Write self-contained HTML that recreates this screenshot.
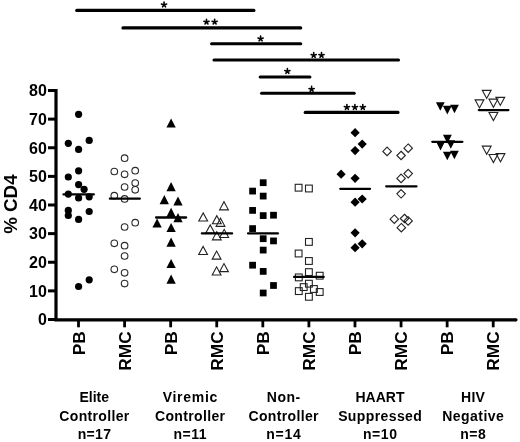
<!DOCTYPE html><html><head><meta charset="utf-8"><style>html,body{margin:0;padding:0;background:#fff;}svg{display:block;will-change:transform;filter:blur(0.45px);}</style></head><body>
<svg width="520" height="442" viewBox="0 0 520 442" style="font-family:'Liberation Sans', sans-serif;font-weight:bold">
<rect width="520" height="442" fill="#fff"/>
<line x1="76.7" y1="10.4" x2="253.9" y2="10.4" stroke="#000" stroke-width="3.1" stroke-linecap="round"/>
<path d="M164.05 4.90L164.05 2.00M164.05 4.90L166.62 4.07M164.05 4.90L161.48 4.07M164.05 4.90L165.53 6.79M164.05 4.90L162.57 6.79" stroke="#000" stroke-width="1.6" stroke-linecap="round" fill="none"/>
<line x1="122.9" y1="27.9" x2="300.7" y2="27.9" stroke="#000" stroke-width="3.1" stroke-linecap="round"/>
<path d="M206.50 22.10L206.50 19.20M206.50 22.10L209.07 21.27M206.50 22.10L203.93 21.27M206.50 22.10L207.98 23.99M206.50 22.10L205.02 23.99" stroke="#000" stroke-width="1.6" stroke-linecap="round" fill="none"/>
<path d="M214.65 22.10L214.65 19.20M214.65 22.10L217.22 21.27M214.65 22.10L212.08 21.27M214.65 22.10L216.13 23.99M214.65 22.10L213.17 23.99" stroke="#000" stroke-width="1.6" stroke-linecap="round" fill="none"/>
<line x1="211.6" y1="43.7" x2="300.7" y2="43.7" stroke="#000" stroke-width="3.1" stroke-linecap="round"/>
<path d="M260.60 38.90L260.60 36.00M260.60 38.90L263.17 38.07M260.60 38.90L258.03 38.07M260.60 38.90L262.08 40.79M260.60 38.90L259.12 40.79" stroke="#000" stroke-width="1.6" stroke-linecap="round" fill="none"/>
<line x1="214.0" y1="60.0" x2="398.5" y2="60.0" stroke="#000" stroke-width="3.1" stroke-linecap="round"/>
<path d="M313.70 55.40L313.70 52.50M313.70 55.40L316.27 54.57M313.70 55.40L311.13 54.57M313.70 55.40L315.18 57.29M313.70 55.40L312.22 57.29" stroke="#000" stroke-width="1.6" stroke-linecap="round" fill="none"/>
<path d="M321.50 55.40L321.50 52.50M321.50 55.40L324.07 54.57M321.50 55.40L318.93 54.57M321.50 55.40L322.98 57.29M321.50 55.40L320.02 57.29" stroke="#000" stroke-width="1.6" stroke-linecap="round" fill="none"/>
<line x1="260.2" y1="77.0" x2="309.9" y2="77.0" stroke="#000" stroke-width="3.1" stroke-linecap="round"/>
<path d="M287.40 71.40L287.40 68.50M287.40 71.40L289.97 70.57M287.40 71.40L284.83 70.57M287.40 71.40L288.88 73.29M287.40 71.40L285.92 73.29" stroke="#000" stroke-width="1.6" stroke-linecap="round" fill="none"/>
<line x1="261.6" y1="93.2" x2="354.2" y2="93.2" stroke="#000" stroke-width="3.1" stroke-linecap="round"/>
<path d="M311.60 89.30L311.60 86.40M311.60 89.30L314.17 88.47M311.60 89.30L309.03 88.47M311.60 89.30L313.08 91.19M311.60 89.30L310.12 91.19" stroke="#000" stroke-width="1.6" stroke-linecap="round" fill="none"/>
<line x1="305.2" y1="112.4" x2="398.0" y2="112.4" stroke="#000" stroke-width="3.1" stroke-linecap="round"/>
<path d="M346.90 107.40L346.90 104.50M346.90 107.40L349.47 106.57M346.90 107.40L344.33 106.57M346.90 107.40L348.38 109.29M346.90 107.40L345.42 109.29" stroke="#000" stroke-width="1.6" stroke-linecap="round" fill="none"/>
<path d="M354.90 107.40L354.90 104.50M354.90 107.40L357.47 106.57M354.90 107.40L352.33 106.57M354.90 107.40L356.38 109.29M354.90 107.40L353.42 109.29" stroke="#000" stroke-width="1.6" stroke-linecap="round" fill="none"/>
<path d="M362.80 107.40L362.80 104.50M362.80 107.40L365.37 106.57M362.80 107.40L360.23 106.57M362.80 107.40L364.28 109.29M362.80 107.40L361.32 109.29" stroke="#000" stroke-width="1.6" stroke-linecap="round" fill="none"/>
<path d="M48 90.5 H56 V319.8 H516" fill="none" stroke="#000" stroke-width="3.2" stroke-linejoin="miter" stroke-linecap="butt"/><circle cx="516" cy="319.8" r="1.6" fill="#000"/>
<line x1="48" y1="319.50" x2="56" y2="319.50" stroke="#000" stroke-width="3"/>
<text x="46.9" y="325.30" font-size="16" text-anchor="end">0</text>
<line x1="48" y1="290.88" x2="56" y2="290.88" stroke="#000" stroke-width="3"/>
<text x="46.9" y="296.68" font-size="16" text-anchor="end">10</text>
<line x1="48" y1="262.25" x2="56" y2="262.25" stroke="#000" stroke-width="3"/>
<text x="46.9" y="268.05" font-size="16" text-anchor="end">20</text>
<line x1="48" y1="233.62" x2="56" y2="233.62" stroke="#000" stroke-width="3"/>
<text x="46.9" y="239.43" font-size="16" text-anchor="end">30</text>
<line x1="48" y1="205.00" x2="56" y2="205.00" stroke="#000" stroke-width="3"/>
<text x="46.9" y="210.80" font-size="16" text-anchor="end">40</text>
<line x1="48" y1="176.38" x2="56" y2="176.38" stroke="#000" stroke-width="3"/>
<text x="46.9" y="182.18" font-size="16" text-anchor="end">50</text>
<line x1="48" y1="147.75" x2="56" y2="147.75" stroke="#000" stroke-width="3"/>
<text x="46.9" y="153.55" font-size="16" text-anchor="end">60</text>
<line x1="48" y1="119.12" x2="56" y2="119.12" stroke="#000" stroke-width="3"/>
<text x="46.9" y="124.92" font-size="16" text-anchor="end">70</text>
<line x1="48" y1="90.50" x2="56" y2="90.50" stroke="#000" stroke-width="3"/>
<text x="46.9" y="96.30" font-size="16" text-anchor="end">80</text>
<line x1="78.50" y1="319.8" x2="78.50" y2="327.3" stroke="#000" stroke-width="2.8"/>
<text transform="translate(84.50,331.3) rotate(-90) scale(1.08,1)" font-size="16" text-anchor="end">PB</text>
<line x1="124.58" y1="319.8" x2="124.58" y2="327.3" stroke="#000" stroke-width="2.8"/>
<text transform="translate(130.58,331.3) rotate(-90) scale(1.08,1)" font-size="16" text-anchor="end">RMC</text>
<line x1="170.66" y1="319.8" x2="170.66" y2="327.3" stroke="#000" stroke-width="2.8"/>
<text transform="translate(176.66,331.3) rotate(-90) scale(1.08,1)" font-size="16" text-anchor="end">PB</text>
<line x1="216.74" y1="319.8" x2="216.74" y2="327.3" stroke="#000" stroke-width="2.8"/>
<text transform="translate(222.74,331.3) rotate(-90) scale(1.08,1)" font-size="16" text-anchor="end">RMC</text>
<line x1="262.82" y1="319.8" x2="262.82" y2="327.3" stroke="#000" stroke-width="2.8"/>
<text transform="translate(268.82,331.3) rotate(-90) scale(1.08,1)" font-size="16" text-anchor="end">PB</text>
<line x1="308.90" y1="319.8" x2="308.90" y2="327.3" stroke="#000" stroke-width="2.8"/>
<text transform="translate(314.90,331.3) rotate(-90) scale(1.08,1)" font-size="16" text-anchor="end">RMC</text>
<line x1="354.98" y1="319.8" x2="354.98" y2="327.3" stroke="#000" stroke-width="2.8"/>
<text transform="translate(360.98,331.3) rotate(-90) scale(1.08,1)" font-size="16" text-anchor="end">PB</text>
<line x1="401.06" y1="319.8" x2="401.06" y2="327.3" stroke="#000" stroke-width="2.8"/>
<text transform="translate(407.06,331.3) rotate(-90) scale(1.08,1)" font-size="16" text-anchor="end">RMC</text>
<line x1="447.14" y1="319.8" x2="447.14" y2="327.3" stroke="#000" stroke-width="2.8"/>
<text transform="translate(453.14,331.3) rotate(-90) scale(1.08,1)" font-size="16" text-anchor="end">PB</text>
<line x1="493.22" y1="319.8" x2="493.22" y2="327.3" stroke="#000" stroke-width="2.8"/>
<text transform="translate(499.22,331.3) rotate(-90) scale(1.08,1)" font-size="16" text-anchor="end">RMC</text>
<text transform="translate(16.6,204.1) rotate(-90) scale(1.04,1)" font-size="18" text-anchor="middle">% CD4</text>
<text x="94.30" y="402.2" font-size="14" letter-spacing="0" text-anchor="middle">Elite</text>
<text x="94.47" y="420.8" font-size="14" letter-spacing="0.35" text-anchor="middle">Controller</text>
<text x="94.47" y="439.4" font-size="14" letter-spacing="0.33" text-anchor="middle">n=17</text>
<text x="190.35" y="402.2" font-size="14" letter-spacing="0.7" text-anchor="middle">Viremic</text>
<text x="190.18" y="420.8" font-size="14" letter-spacing="0.35" text-anchor="middle">Controller</text>
<text x="190.28" y="439.4" font-size="14" letter-spacing="0.55" text-anchor="middle">n=11</text>
<text x="283.77" y="402.2" font-size="14" letter-spacing="0.55" text-anchor="middle">Non-</text>
<text x="283.68" y="420.8" font-size="14" letter-spacing="0.35" text-anchor="middle">Controller</text>
<text x="283.88" y="439.4" font-size="14" letter-spacing="0.75" text-anchor="middle">n=14</text>
<text x="380.00" y="402.2" font-size="14" letter-spacing="0" text-anchor="middle">HAART</text>
<text x="380.20" y="420.8" font-size="14" letter-spacing="0.4" text-anchor="middle">Suppressed</text>
<text x="380.27" y="439.4" font-size="14" letter-spacing="0.55" text-anchor="middle">n=10</text>
<text x="473.10" y="402.2" font-size="14" letter-spacing="0.2" text-anchor="middle">HIV</text>
<text x="473.23" y="420.8" font-size="14" letter-spacing="0.45" text-anchor="middle">Negative</text>
<text x="473.25" y="439.4" font-size="14" letter-spacing="0.5" text-anchor="middle">n=8</text>
<circle cx="78.6" cy="114.3" r="3.6" fill="#000"/>
<circle cx="68.3" cy="143.3" r="3.6" fill="#000"/>
<circle cx="78.6" cy="149.4" r="3.6" fill="#000"/>
<circle cx="89.2" cy="140.4" r="3.6" fill="#000"/>
<circle cx="78.6" cy="170.8" r="3.6" fill="#000"/>
<circle cx="68.3" cy="177" r="3.6" fill="#000"/>
<circle cx="78.6" cy="184.6" r="3.6" fill="#000"/>
<circle cx="84.1" cy="189.3" r="3.6" fill="#000"/>
<circle cx="68.3" cy="194.1" r="3.6" fill="#000"/>
<circle cx="78.6" cy="198" r="3.6" fill="#000"/>
<circle cx="89.2" cy="196.8" r="3.6" fill="#000"/>
<circle cx="68.3" cy="210.4" r="3.6" fill="#000"/>
<circle cx="68.3" cy="215.5" r="3.6" fill="#000"/>
<circle cx="89.2" cy="211.5" r="3.6" fill="#000"/>
<circle cx="78.6" cy="219.4" r="3.6" fill="#000"/>
<circle cx="78.6" cy="286.5" r="3.6" fill="#000"/>
<circle cx="89.2" cy="279.8" r="3.6" fill="#000"/>
<circle cx="124.6" cy="158.2" r="3.30" fill="none" stroke="#2a2a2a" stroke-width="1.1"/>
<circle cx="114.3" cy="171.5" r="3.30" fill="none" stroke="#2a2a2a" stroke-width="1.1"/>
<circle cx="124.6" cy="174.3" r="3.30" fill="none" stroke="#2a2a2a" stroke-width="1.1"/>
<circle cx="135.2" cy="170.7" r="3.30" fill="none" stroke="#2a2a2a" stroke-width="1.1"/>
<circle cx="124.6" cy="187" r="3.30" fill="none" stroke="#2a2a2a" stroke-width="1.1"/>
<circle cx="135.2" cy="183" r="3.30" fill="none" stroke="#2a2a2a" stroke-width="1.1"/>
<circle cx="135.2" cy="189.8" r="3.30" fill="none" stroke="#2a2a2a" stroke-width="1.1"/>
<circle cx="114.3" cy="195.7" r="3.30" fill="none" stroke="#2a2a2a" stroke-width="1.1"/>
<circle cx="124.6" cy="198.9" r="3.30" fill="none" stroke="#2a2a2a" stroke-width="1.1"/>
<circle cx="135.2" cy="222.7" r="3.30" fill="none" stroke="#2a2a2a" stroke-width="1.1"/>
<circle cx="124.6" cy="227" r="3.30" fill="none" stroke="#2a2a2a" stroke-width="1.1"/>
<circle cx="114.3" cy="243.3" r="3.30" fill="none" stroke="#2a2a2a" stroke-width="1.1"/>
<circle cx="124.6" cy="245.7" r="3.30" fill="none" stroke="#2a2a2a" stroke-width="1.1"/>
<circle cx="124.6" cy="256" r="3.30" fill="none" stroke="#2a2a2a" stroke-width="1.1"/>
<circle cx="114.3" cy="269.3" r="3.30" fill="none" stroke="#2a2a2a" stroke-width="1.1"/>
<circle cx="124.6" cy="272.8" r="3.30" fill="none" stroke="#2a2a2a" stroke-width="1.1"/>
<circle cx="124.6" cy="283.6" r="3.30" fill="none" stroke="#2a2a2a" stroke-width="1.1"/>
<polygon points="166.45,127.60 175.75,127.60 171.10,118.40" fill="#000"/>
<polygon points="166.45,191.30 175.75,191.30 171.10,182.10" fill="#000"/>
<polygon points="159.65,204.30 168.95,204.30 164.30,195.10" fill="#000"/>
<polygon points="173.35,205.60 182.65,205.60 178.00,196.40" fill="#000"/>
<polygon points="166.45,217.00 175.75,217.00 171.10,207.80" fill="#000"/>
<polygon points="173.35,222.30 182.65,222.30 178.00,213.10" fill="#000"/>
<polygon points="152.45,227.60 161.75,227.60 157.10,218.40" fill="#000"/>
<polygon points="166.45,232.10 175.75,232.10 171.10,222.90" fill="#000"/>
<polygon points="166.45,246.80 175.75,246.80 171.10,237.60" fill="#000"/>
<polygon points="166.45,268.10 175.75,268.10 171.10,258.90" fill="#000"/>
<polygon points="166.45,283.70 175.75,283.70 171.10,274.50" fill="#000"/>
<polygon points="219.60,209.85 228.40,209.85 224.00,201.75" fill="none" stroke="#222" stroke-width="1.1" stroke-linejoin="miter"/>
<polygon points="198.80,221.05 207.60,221.05 203.20,212.95" fill="none" stroke="#222" stroke-width="1.1" stroke-linejoin="miter"/>
<polygon points="212.40,223.75 221.20,223.75 216.80,215.65" fill="none" stroke="#222" stroke-width="1.1" stroke-linejoin="miter"/>
<polygon points="216.10,226.35 224.90,226.35 220.50,218.25" fill="none" stroke="#222" stroke-width="1.1" stroke-linejoin="miter"/>
<polygon points="205.80,233.05 214.60,233.05 210.20,224.95" fill="none" stroke="#222" stroke-width="1.1" stroke-linejoin="miter"/>
<polygon points="219.80,237.45 228.60,237.45 224.20,229.35" fill="none" stroke="#222" stroke-width="1.1" stroke-linejoin="miter"/>
<polygon points="212.40,239.85 221.20,239.85 216.80,231.75" fill="none" stroke="#222" stroke-width="1.1" stroke-linejoin="miter"/>
<polygon points="198.70,254.55 207.50,254.55 203.10,246.45" fill="none" stroke="#222" stroke-width="1.1" stroke-linejoin="miter"/>
<polygon points="212.20,259.15 221.00,259.15 216.60,251.05" fill="none" stroke="#222" stroke-width="1.1" stroke-linejoin="miter"/>
<polygon points="219.60,271.65 228.40,271.65 224.00,263.55" fill="none" stroke="#222" stroke-width="1.1" stroke-linejoin="miter"/>
<polygon points="212.20,274.95 221.00,274.95 216.60,266.85" fill="none" stroke="#222" stroke-width="1.1" stroke-linejoin="miter"/>
<rect x="259.82" y="179.32" width="6.75" height="6.75" fill="#000"/>
<rect x="249.22" y="187.72" width="6.75" height="6.75" fill="#000"/>
<rect x="259.82" y="192.72" width="6.75" height="6.75" fill="#000"/>
<rect x="249.22" y="207.03" width="6.75" height="6.75" fill="#000"/>
<rect x="259.82" y="212.22" width="6.75" height="6.75" fill="#000"/>
<rect x="270.12" y="211.82" width="6.75" height="6.75" fill="#000"/>
<rect x="249.22" y="225.22" width="6.75" height="6.75" fill="#000"/>
<rect x="259.82" y="235.32" width="6.75" height="6.75" fill="#000"/>
<rect x="270.12" y="237.53" width="6.75" height="6.75" fill="#000"/>
<rect x="259.82" y="246.72" width="6.75" height="6.75" fill="#000"/>
<rect x="249.22" y="261.82" width="6.75" height="6.75" fill="#000"/>
<rect x="259.82" y="268.02" width="6.75" height="6.75" fill="#000"/>
<rect x="270.12" y="282.12" width="6.75" height="6.75" fill="#000"/>
<rect x="259.82" y="289.62" width="6.75" height="6.75" fill="#000"/>
<rect x="295.20" y="184.30" width="6.80" height="6.80" fill="none" stroke="#222" stroke-width="1.1"/>
<rect x="305.50" y="185.10" width="6.80" height="6.80" fill="none" stroke="#222" stroke-width="1.1"/>
<rect x="305.50" y="238.50" width="6.80" height="6.80" fill="none" stroke="#222" stroke-width="1.1"/>
<rect x="295.20" y="250.10" width="6.80" height="6.80" fill="none" stroke="#222" stroke-width="1.1"/>
<rect x="305.50" y="257.60" width="6.80" height="6.80" fill="none" stroke="#222" stroke-width="1.1"/>
<rect x="305.50" y="268.70" width="6.80" height="6.80" fill="none" stroke="#222" stroke-width="1.1"/>
<rect x="295.40" y="274.00" width="6.80" height="6.80" fill="none" stroke="#222" stroke-width="1.1"/>
<rect x="316.30" y="272.30" width="6.80" height="6.80" fill="none" stroke="#222" stroke-width="1.1"/>
<rect x="305.50" y="280.30" width="6.80" height="6.80" fill="none" stroke="#222" stroke-width="1.1"/>
<rect x="300.30" y="283.70" width="6.80" height="6.80" fill="none" stroke="#222" stroke-width="1.1"/>
<rect x="295.40" y="287.70" width="6.80" height="6.80" fill="none" stroke="#222" stroke-width="1.1"/>
<rect x="310.50" y="285.60" width="6.80" height="6.80" fill="none" stroke="#222" stroke-width="1.1"/>
<rect x="316.30" y="288.60" width="6.80" height="6.80" fill="none" stroke="#222" stroke-width="1.1"/>
<rect x="305.50" y="293.40" width="6.80" height="6.80" fill="none" stroke="#222" stroke-width="1.1"/>
<polygon points="355.10,128.10 359.70,132.70 355.10,137.30 350.50,132.70" fill="#000"/>
<polygon points="362.20,139.50 366.80,144.10 362.20,148.70 357.60,144.10" fill="#000"/>
<polygon points="355.10,146.00 359.70,150.60 355.10,155.20 350.50,150.60" fill="#000"/>
<polygon points="341.10,169.60 345.70,174.20 341.10,178.80 336.50,174.20" fill="#000"/>
<polygon points="355.10,173.70 359.70,178.30 355.10,182.90 350.50,178.30" fill="#000"/>
<polygon points="362.20,194.40 366.80,199.00 362.20,203.60 357.60,199.00" fill="#000"/>
<polygon points="355.10,197.60 359.70,202.20 355.10,206.80 350.50,202.20" fill="#000"/>
<polygon points="355.10,228.20 359.70,232.80 355.10,237.40 350.50,232.80" fill="#000"/>
<polygon points="362.20,239.20 366.80,243.80 362.20,248.40 357.60,243.80" fill="#000"/>
<polygon points="355.10,243.10 359.70,247.70 355.10,252.30 350.50,247.70" fill="#000"/>
<polygon points="387.10,147.15 391.35,151.40 387.10,155.65 382.85,151.40" fill="none" stroke="#222" stroke-width="1.1"/>
<polygon points="408.20,143.95 412.45,148.20 408.20,152.45 403.95,148.20" fill="none" stroke="#222" stroke-width="1.1"/>
<polygon points="401.10,151.25 405.35,155.50 401.10,159.75 396.85,155.50" fill="none" stroke="#222" stroke-width="1.1"/>
<polygon points="408.20,169.35 412.45,173.60 408.20,177.85 403.95,173.60" fill="none" stroke="#222" stroke-width="1.1"/>
<polygon points="401.10,174.15 405.35,178.40 401.10,182.65 396.85,178.40" fill="none" stroke="#222" stroke-width="1.1"/>
<polygon points="401.10,189.55 405.35,193.80 401.10,198.05 396.85,193.80" fill="none" stroke="#222" stroke-width="1.1"/>
<polygon points="394.30,214.95 398.55,219.20 394.30,223.45 390.05,219.20" fill="none" stroke="#222" stroke-width="1.1"/>
<polygon points="404.50,214.25 408.75,218.50 404.50,222.75 400.25,218.50" fill="none" stroke="#222" stroke-width="1.1"/>
<polygon points="408.10,216.65 412.35,220.90 408.10,225.15 403.85,220.90" fill="none" stroke="#222" stroke-width="1.1"/>
<polygon points="401.30,223.45 405.55,227.70 401.30,231.95 397.05,227.70" fill="none" stroke="#222" stroke-width="1.1"/>
<polygon points="435.90,102.15 444.70,102.15 440.30,110.85" fill="#000"/>
<polygon points="442.90,105.75 451.70,105.75 447.30,114.45" fill="#000"/>
<polygon points="450.10,104.65 458.90,104.65 454.50,113.35" fill="#000"/>
<polygon points="443.00,134.75 451.80,134.75 447.40,143.45" fill="#000"/>
<polygon points="436.10,141.75 444.90,141.75 440.50,150.45" fill="#000"/>
<polygon points="446.40,140.15 455.20,140.15 450.80,148.85" fill="#000"/>
<polygon points="442.90,151.65 451.70,151.65 447.30,160.35" fill="#000"/>
<polygon points="450.00,150.65 458.80,150.65 454.40,159.35" fill="#000"/>
<polygon points="482.30,90.35 491.10,90.35 486.70,98.45" fill="none" stroke="#222" stroke-width="1.1" stroke-linejoin="miter"/>
<polygon points="475.10,99.85 483.90,99.85 479.50,107.95" fill="none" stroke="#222" stroke-width="1.1" stroke-linejoin="miter"/>
<polygon points="489.00,99.15 497.80,99.15 493.40,107.25" fill="none" stroke="#222" stroke-width="1.1" stroke-linejoin="miter"/>
<polygon points="495.90,97.35 504.70,97.35 500.30,105.45" fill="none" stroke="#222" stroke-width="1.1" stroke-linejoin="miter"/>
<polygon points="489.00,112.45 497.80,112.45 493.40,120.55" fill="none" stroke="#222" stroke-width="1.1" stroke-linejoin="miter"/>
<polygon points="482.30,146.15 491.10,146.15 486.70,154.25" fill="none" stroke="#222" stroke-width="1.1" stroke-linejoin="miter"/>
<polygon points="489.00,154.45 497.80,154.45 493.40,162.55" fill="none" stroke="#222" stroke-width="1.1" stroke-linejoin="miter"/>
<polygon points="496.10,153.65 504.90,153.65 500.50,161.75" fill="none" stroke="#222" stroke-width="1.1" stroke-linejoin="miter"/>
<line x1="63.50" y1="194.4" x2="93.80" y2="194.4" stroke="#000" stroke-width="2.3" stroke-linecap="round"/>
<line x1="109.90" y1="198.7" x2="139.80" y2="198.7" stroke="#000" stroke-width="2.3" stroke-linecap="round"/>
<line x1="156.10" y1="217.5" x2="186.10" y2="217.5" stroke="#000" stroke-width="2.3" stroke-linecap="round"/>
<line x1="201.90" y1="233.4" x2="232.10" y2="233.4" stroke="#000" stroke-width="2.3" stroke-linecap="round"/>
<line x1="248.10" y1="233.4" x2="277.90" y2="233.4" stroke="#000" stroke-width="2.3" stroke-linecap="round"/>
<line x1="294.10" y1="276.9" x2="323.70" y2="276.9" stroke="#000" stroke-width="2.3" stroke-linecap="round"/>
<line x1="340.30" y1="188.85" x2="370.00" y2="188.85" stroke="#000" stroke-width="2.3" stroke-linecap="round"/>
<line x1="386.20" y1="186.3" x2="416.50" y2="186.3" stroke="#000" stroke-width="2.3" stroke-linecap="round"/>
<line x1="432.30" y1="141.8" x2="462.40" y2="141.8" stroke="#000" stroke-width="2.3" stroke-linecap="round"/>
<line x1="478.80" y1="110.1" x2="508.40" y2="110.1" stroke="#000" stroke-width="2.3" stroke-linecap="round"/>
</svg></body></html>
